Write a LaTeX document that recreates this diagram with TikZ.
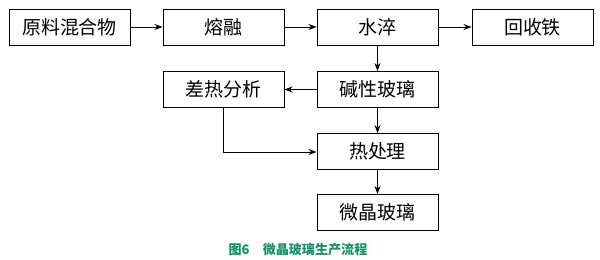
\documentclass[tikz,border=0pt]{standalone}
\usepackage{fontspec}
\usepackage{tikz}
\usetikzlibrary{arrows.meta, positioning}
\newfontfamily\cjkfont{Noto Sans CJK SC}
\definecolor{capgreen}{RGB}{20,145,105}
\tikzset{
  procbox/.style={draw=black, line width=0.7pt, minimum width=3.025cm,
    minimum height=0.9cm, inner sep=0pt, font=\cjkfont\fontsize{13.5}{14}\selectfont},
  flow/.style={line width=0.6pt, -{Stealth[length=2mm, width=1.5mm]}}
}
\begin{document}
\begin{tikzpicture}
    \useasboundingbox (0,0) rectangle (15,-6.5);
    % top row
    \node[procbox] (mix) at (1.7375,-0.675) {原料混合物};
    \node[procbox] (melt) at (5.5875,-0.675) {熔融};
    \node[procbox] (quench) at (9.4375,-0.675) {水淬};
    \node[procbox] (iron) at (13.3125,-0.675) {回收铁};
    % lower rows
    \node[procbox] (dta) at (5.5875,-2.2375) {差热分析};
    \node[procbox] (glass) at (9.4375,-2.2375) {碱性玻璃};
    \node[procbox] (heat) at (9.4375,-3.7875) {热处理};
    \node[procbox] (ceram) at (9.4375,-5.3125) {微晶玻璃};
    \coordinate (bend) at (dta.south |- 0,-3.8);
    \draw[flow] (mix) -- (melt);
    \draw[flow] (melt) -- (quench);
    \draw[flow] (quench) -- (iron);
    \draw[flow] (quench) -- (glass);
    \draw[flow] (glass) -- (dta);
    \draw[flow] (glass) -- (heat);
    \draw[flow] (heat) -- (ceram);
    \draw[flow] (dta.south) -- (bend) -- (heat.west |- bend);
    % caption
    \node[font=\cjkfont\bfseries\fontsize{9.3}{11}\selectfont, text=capgreen] (cap) at (7.45,-6.24)
      {图6\quad 微晶玻璃生产流程};
\end{tikzpicture}
\end{document}
